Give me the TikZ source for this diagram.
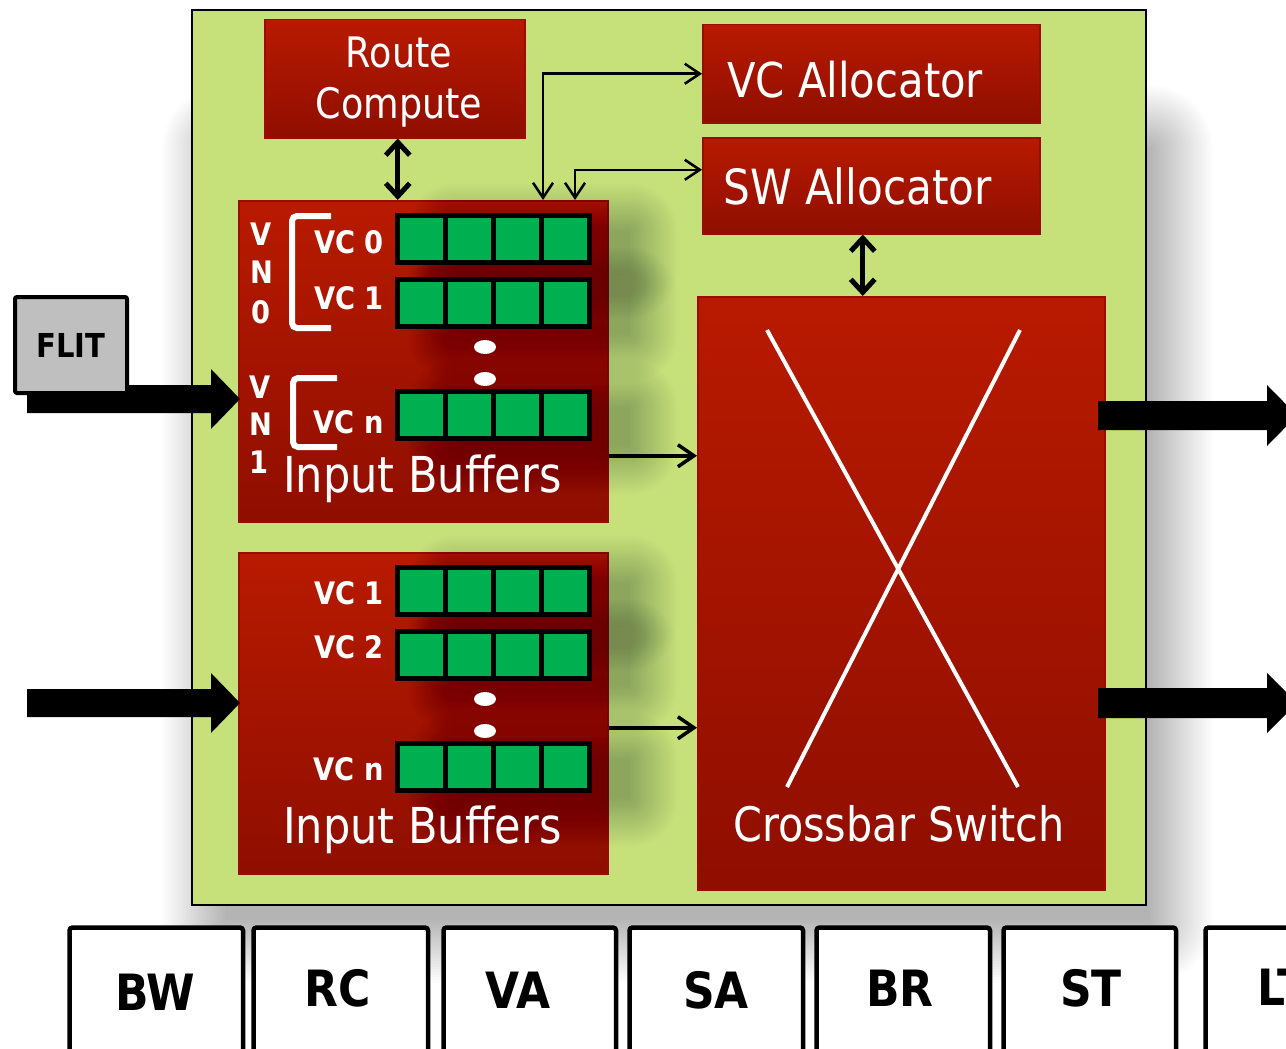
\documentclass[tikz,border=0pt]{standalone}
\usepackage{fontspec}
\setmainfont{DejaVu Sans}[FakeStretch=0.87]
\newfontfamily\bfam{DejaVu Sans}[FakeStretch=0.88]
\usetikzlibrary{arrows.meta,calc}
\definecolor{routergreen}{RGB}{198,224,122}
\definecolor{rtop}{RGB}{184,26,0}
\definecolor{rbot}{RGB}{143,14,0}
\definecolor{redline}{RGB}{158,10,0}
\definecolor{cellgreen}{RGB}{0,176,80}
\definecolor{flitgray}{RGB}{191,191,191}
\newcommand\fsz[1]{\fontsize{#1pt}{#1pt}\selectfont}
\tikzset{
  redbox/.style={draw=redline, line width=1.5pt, top color=rtop, bottom color=rbot, inner sep=0pt, anchor=north west},
  lbl/.style={text=white, inner sep=0pt},
  blbl/.style={text=white, inner sep=0pt, font={\bfam\bfseries\fsz{31}}},
  cellst/.style={fill=cellgreen, draw=black, line width=5pt},
  dbl/.style={line width=5pt, >={Straight Barb[length=13pt,width=24pt]}, <->},
  thn/.style={line width=2.5pt, >={Straight Barb[length=15pt,width=20pt]}, <->},
  mid/.style={line width=3.5pt, >={Straight Barb[length=16pt,width=22pt]}, ->},
  pipe/.style={draw=black, fill=white, line width=4.5pt, rounded corners=3pt, inner sep=0pt, anchor=north west},
  plbl/.style={text=black, inner sep=0pt, anchor=base, font={\bfam\bfseries\fsz{50}}},
  bracket/.style={draw=white, line width=6pt, rounded corners=5pt}
}
\begin{document}
\begin{tikzpicture}[x=1pt,y=-1pt]
\useasboundingbox (0,0) rectangle (1286,1049);
\clip (0,0) rectangle (1286,1049);
\fill[white] (0,0) rectangle (1286,1049);

% soft drop shadow of the router
\foreach \k in {0,...,24}
  \fill[black, opacity=0.011, rounded corners=\k*2.6pt+0.1pt] ({225-\k*2.6},{148-\k*2.6}) rectangle ({1150+\k*2.6},{920+\k*2.6});

% router
\node[draw, line width=2pt, fill=routergreen, minimum width=954pt, minimum height=895pt, inner sep=0pt, anchor=north west] (router) at (191,9) {};

% red blocks
\node[redbox, minimum width=260pt, minimum height=118pt] (rc) at (264,19) {};
\node[redbox, minimum width=337pt, minimum height=98pt] (vca) at (702,24) {};
\node[redbox, minimum width=337pt, minimum height=96pt] (swa) at (702,137) {};
\node[redbox, minimum width=369pt, minimum height=321pt] (ib1) at (238,200) {};
\node[redbox, minimum width=369pt, minimum height=321pt] (ib2) at (238,552) {};
\node[redbox, minimum width=407pt, minimum height=593pt] (xb) at (697,296) {};

% soft shadows of the buffer rows
\foreach \yt in {213,277,389,565,629,741}
  \foreach \k in {0,...,28}
    \fill[black, opacity=0.0065, rounded corners=\k*1.7pt+0.1pt] ({455-\k*1.7},{\yt+18-\k*1.7}) rectangle ({630+\k*1.7},{\yt+58+\k*1.7});

% buffer cells
\foreach \yt in {213,277,389,565,629,741}
  \foreach \i in {0,...,3}
    \draw[cellst] ({397.5+\i*48},{\yt+2.5}) rectangle ++(48,47);

% dots
\foreach \yd in {347,379,699,731}
  \fill[white] (485,\yd) ellipse [x radius=11pt, y radius=7pt];

% brackets
\draw[bracket] (331,216) -| (292,328) -- (331,328);
\draw[bracket] (337,378) -| (293,447) -- (337,447);

% crossbar lines
\draw[white, line width=4pt] (767,330) -- (1018,787);
\draw[white, line width=4pt] (1020,330) -- (787,787);

% texts
\node[lbl, anchor=base] (t-route) at (399,67) {\fsz{42}Route};
\node[lbl, anchor=base] (t-comp) at (399,118) {\fsz{42}Compute};
\node[lbl, anchor=base west] (t-vca) at (727,97) {\fsz{48}VC Allocator};
\node[lbl, anchor=base west] (t-swa) at (723,204) {\fsz{48.5}SW Allocator};
\node[lbl, anchor=base west] (t-ib1) at (283,492) {\fsz{49.5}Input Buffers};
\node[lbl, anchor=base west] (t-ib2) at (283,843) {\fsz{49.5}Input Buffers};
\node[lbl, anchor=base] (t-xb) at (899,841) {\fsz{47.5}Crossbar Switch};

\node[blbl, anchor=base east] (vc10) at (384,253) {VC 0};
\node[blbl, anchor=base east] (vc11) at (384,309) {VC 1};
\node[blbl, anchor=base east] (vc1n) at (384,433) {VC n};
\node[blbl, anchor=base east] (vc21) at (384,604) {VC 1};
\node[blbl, anchor=base east] (vc22) at (384,658) {VC 2};
\node[blbl, anchor=base east] (vc2n) at (384,780) {VC n};

\node[blbl, anchor=base] (vn0a) at (261,245) {V};
\node[blbl, anchor=base] (vn0b) at (262,283) {N};
\node[blbl, anchor=base] (vn0c) at (261,323) {0};
\node[blbl, anchor=base] (vn1a) at (260,398) {V};
\node[blbl, anchor=base] (vn1b) at (261,435) {N};
\node[blbl, anchor=base] (vn1c) at (259,473) {1};

% connectors
\coordinate (a1) at ([xshift=3pt]rc.south);
\draw[dbl] (a1) -- (a1 |- ib1.north);
\coordinate (a2) at ([xshift=-8.5pt]swa.south);
\draw[dbl] (a2) -- (a2 |- xb.north);
\draw[thn] ([xshift=305pt]ib1.north west) |- (vca.west);
\draw[thn] ([xshift=337pt]ib1.north west) |- ([yshift=16pt]swa.west);
\coordinate (a3) at ([yshift=-94.5pt]ib1.east);
\draw[mid] (a3) -- (a3 -| xb.west);
\coordinate (a4) at ([yshift=-14.5pt]ib2.east);
\draw[mid] (a4) -- (a4 -| xb.west);

% big input / output arrows
\fill[black] (27,385) -- (211,385) -- (211,369) -- (240,399) -- (211,429) -- (211,413) -- (27,413) -- cycle;
\fill[black] (27,689) -- (211,689) -- (211,673) -- (240,703) -- (211,733) -- (211,717) -- (27,717) -- cycle;
\fill[black] (1098,401) -- (1267,401) -- (1267,385) -- (1297,415.5) -- (1267,446) -- (1267,430) -- (1098,430) -- cycle;
\fill[black] (1098,688) -- (1267,688) -- (1267,673) -- (1297,703) -- (1267,733) -- (1267,718) -- (1098,718) -- cycle;

% flit
\node[draw=black, line width=4pt, fill=flitgray, rounded corners=2pt, minimum width=112pt, minimum height=96pt, inner sep=0pt, anchor=north west, font={\bfam\bfseries\fsz{33}}] (flit) at (13,295) {FLIT};

% pipeline stages
\node[pipe, minimum width=173.5pt, minimum height=160pt] (pbw) at (67.25,925.25) {};
\node[pipe, minimum width=174.5pt, minimum height=160pt] (prc) at (251.25,925.25) {};
\node[pipe, minimum width=172.5pt, minimum height=160pt] (pva) at (441.25,925.25) {};
\node[pipe, minimum width=173.5pt, minimum height=160pt] (psa) at (627.25,925.25) {};
\node[pipe, minimum width=173.5pt, minimum height=160pt] (pbr) at (814.25,925.25) {};
\node[pipe, minimum width=172.5pt, minimum height=160pt] (pst) at (1001.25,925.25) {};
\node[pipe, minimum width=172.5pt, minimum height=160pt] (plt) at (1203.25,925.25) {};
\node[plbl] (tbw) at (155,1010) {BW};
\node[plbl] (trc) at (338,1006) {RC};
\node[plbl] (tva) at (518,1008) {VA};
\node[plbl] (tsa) at (716,1008) {SA};
\node[plbl] (tbr) at (900,1006) {BR};
\node[plbl] (tst) at (1091,1006) {ST};
\node[plbl, anchor=base west] (tlt) at (1257,1005) {LT};
\end{tikzpicture}
\end{document}
